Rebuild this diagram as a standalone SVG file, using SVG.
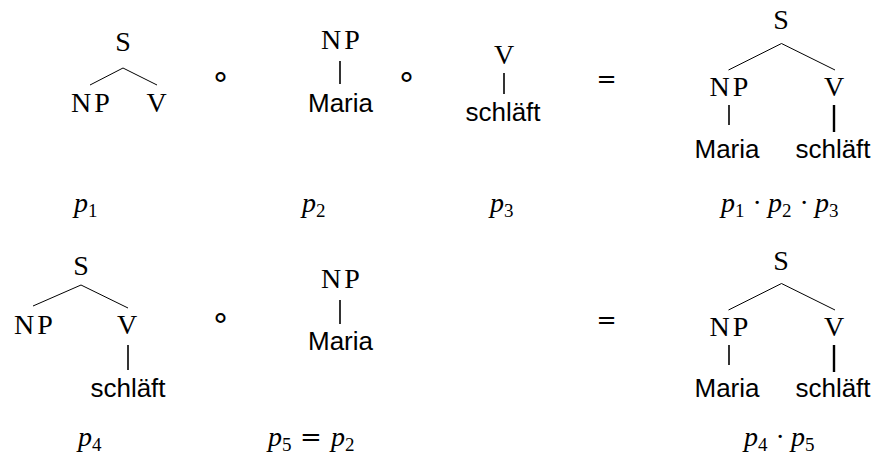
<svg xmlns="http://www.w3.org/2000/svg" width="876" height="457" viewBox="0 0 876 457">
<style>
.cat{font-family:"Liberation Serif","DejaVu Serif",serif;font-size:28px;text-anchor:middle;fill:#000}
.np{letter-spacing:3px}
.w{font-family:"Liberation Sans",Arial,sans-serif;font-size:26px;text-anchor:middle;fill:#000}
.op{font-family:"DejaVu Sans",sans-serif;font-size:32px;text-anchor:middle;fill:#000}
.eq{font-family:"DejaVu Serif",serif;font-size:24px;text-anchor:middle;fill:#000}
.m{font-family:"Liberation Serif","DejaVu Serif",serif;font-size:28px;fill:#000}
.i{font-style:italic}
.sub{font-size:19px}
.eqm{font-family:"DejaVu Serif",serif;font-size:26px}
.br{stroke:#000;stroke-width:1;fill:none}
.vl{stroke:#000;stroke-width:1.6;fill:none}
.vt{stroke:#000;stroke-width:2.4;fill:none}
</style>
<rect width="876" height="457" fill="#fff"/>
<g id="connectors">
<line class="br" x1="123" y1="68" x2="90" y2="85"/>
<line class="br" x1="123" y1="68" x2="157" y2="85"/>
<line class="vl" x1="340" y1="61" x2="340" y2="84"/>
<line class="vl" x1="504" y1="73" x2="504" y2="94"/>
<line class="br" x1="781.5" y1="43.5" x2="728.5" y2="70"/>
<line class="br" x1="781.5" y1="43.5" x2="835" y2="70"/>
<line class="vl" x1="729" y1="105" x2="729" y2="125"/>
<line class="vt" x1="834" y1="105" x2="834" y2="132"/>
<line class="br" x1="81" y1="285" x2="33" y2="306"/>
<line class="br" x1="81" y1="285" x2="128" y2="308"/>
<line class="vl" x1="128" y1="345" x2="128" y2="370"/>
<line class="vl" x1="340" y1="300" x2="340" y2="324"/>
<line class="br" x1="781.5" y1="283.5" x2="728.5" y2="310"/>
<line class="br" x1="781.5" y1="283.5" x2="835" y2="310"/>
<line class="vl" x1="729" y1="345" x2="729" y2="365"/>
<line class="vt" x1="834" y1="345" x2="834" y2="372"/>
</g>
<g id="p1-S"><text class="cat" x="123" y="51">S</text></g>
<g id="p1-NP"><text class="cat np" x="92" y="112">NP</text></g>
<g id="p1-V"><text class="cat" x="156.5" y="112">V</text></g>
<g id="op1"><text class="op" x="220.5" y="87">∘</text></g>
<g id="p2-NP"><text class="cat np" x="342" y="49">NP</text></g>
<g id="p2-Maria"><text class="w" x="340.5" y="112">Maria</text></g>
<g id="op2"><text class="op" x="406.5" y="87">∘</text></g>
<g id="p3-V"><text class="cat" x="504" y="64">V</text></g>
<g id="p3-schlaeft"><text class="w" x="503" y="121">schläft</text></g>
<g id="eq1"><text class="eq" x="606.5" y="87">=</text></g>
<g id="r1-S"><text class="cat" x="781" y="29">S</text></g>
<g id="r1-NP"><text class="cat np" x="730.5" y="96">NP</text></g>
<g id="r1-V"><text class="cat" x="834" y="96">V</text></g>
<g id="r1-Maria"><text class="w" x="727" y="158">Maria</text></g>
<g id="r1-schlaeft"><text class="w" x="833" y="158">schläft</text></g>
<g id="label-p1"><text class="m" y="212"><tspan class="i" x="74">p</tspan><tspan class="sub" x="88" dy="5">1</tspan></text></g>
<g id="label-p2"><text class="m" y="212"><tspan class="i" x="302">p</tspan><tspan class="sub" x="316" dy="5">2</tspan></text></g>
<g id="label-p3"><text class="m" y="212"><tspan class="i" x="490">p</tspan><tspan class="sub" x="504" dy="5">3</tspan></text></g>
<g id="label-p123"><text class="m" y="212"><tspan class="i" x="721">p</tspan><tspan class="sub" x="735" dy="5">1</tspan><tspan x="752.5" dy="-5">·</tspan><tspan class="i" x="768">p</tspan><tspan class="sub" x="782" dy="5">2</tspan><tspan x="799.5" dy="-5">·</tspan><tspan class="i" x="815">p</tspan><tspan class="sub" x="829" dy="5">3</tspan></text></g>
<g id="p4-S"><text class="cat" x="81" y="275">S</text></g>
<g id="p4-NP"><text class="cat np" x="35" y="334">NP</text></g>
<g id="p4-V"><text class="cat" x="127" y="334">V</text></g>
<g id="p4-schlaeft"><text class="w" x="128" y="397">schläft</text></g>
<g id="op3"><text class="op" x="220.5" y="328">∘</text></g>
<g id="p5-NP"><text class="cat np" x="342" y="288">NP</text></g>
<g id="p5-Maria"><text class="w" x="340.5" y="350">Maria</text></g>
<g id="eq2"><text class="eq" x="606.5" y="328">=</text></g>
<g id="r2-S"><text class="cat" x="781" y="270">S</text></g>
<g id="r2-NP"><text class="cat np" x="730.5" y="336">NP</text></g>
<g id="r2-V"><text class="cat" x="834" y="336">V</text></g>
<g id="r2-Maria"><text class="w" x="727" y="397">Maria</text></g>
<g id="r2-schlaeft"><text class="w" x="833" y="397">schläft</text></g>
<g id="label-p4"><text class="m" y="446"><tspan class="i" x="78">p</tspan><tspan class="sub" x="92" dy="5">4</tspan></text></g>
<g id="label-p5p2"><text class="m" y="446"><tspan class="i" x="268">p</tspan><tspan class="sub" x="282" dy="5">5</tspan><tspan class="eqm" x="300" dy="-5">=</tspan><tspan class="i" x="331">p</tspan><tspan class="sub" x="345" dy="5">2</tspan></text></g>
<g id="label-p45"><text class="m" y="446"><tspan class="i" x="744">p</tspan><tspan class="sub" x="758" dy="5">4</tspan><tspan x="775.5" dy="-5">·</tspan><tspan class="i" x="791">p</tspan><tspan class="sub" x="805" dy="5">5</tspan></text></g>
</svg>
